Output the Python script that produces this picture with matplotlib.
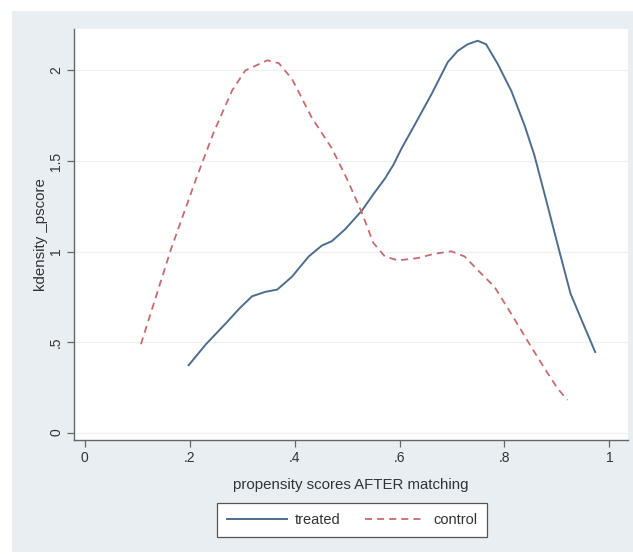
import matplotlib
matplotlib.use("Agg")
import matplotlib.pyplot as plt
from matplotlib.patches import Rectangle

# 读数：核密度曲线
treated_x = [0.198, 0.231, 0.272, 0.294, 0.319, 0.344, 0.367, 0.395, 0.427, 0.452,
             0.471, 0.496, 0.528, 0.553, 0.572, 0.588, 0.604, 0.629, 0.661, 0.692,
             0.711, 0.730, 0.749, 0.765, 0.787, 0.813, 0.838, 0.857, 0.879, 0.904,
             0.926, 0.949, 0.973]
treated_y = [0.372, 0.488, 0.613, 0.683, 0.753, 0.777, 0.790, 0.861, 0.973, 1.033,
             1.057, 1.122, 1.225, 1.328, 1.402, 1.477, 1.570, 1.700, 1.869, 2.046,
             2.108, 2.145, 2.164, 2.145, 2.037, 1.888, 1.700, 1.533, 1.290, 1.010,
             0.768, 0.609, 0.445]

control_x = [0.107, 0.164, 0.212, 0.246, 0.281, 0.306, 0.348, 0.370, 0.395, 0.433,
             0.471, 0.500, 0.528, 0.550, 0.572, 0.597, 0.635, 0.667, 0.699, 0.724,
             0.749, 0.781, 0.813, 0.844, 0.876, 0.901, 0.920]
control_y = [0.488, 1.010, 1.400, 1.660, 1.890, 2.000, 2.056, 2.040, 1.953, 1.738,
             1.570, 1.400, 1.216, 1.048, 0.973, 0.951, 0.964, 0.988, 1.001, 0.973,
             0.898, 0.805, 0.656, 0.507, 0.357, 0.245, 0.180]

x_ticks = [0, 0.2, 0.4, 0.6, 0.8, 1.0]
x_ticklabels = ["0", ".2", ".4", ".6", ".8", "1"]
y_ticks = [0, 0.5, 1.0, 1.5, 2.0]
y_ticklabels = ["0", ".5", "1", "1.5", "2"]

W, H = 633, 554
BG = "#e8eef1"
TEXT = "#333333"
AXIS = "#666666"

plt.rcParams["font.family"] = ["Liberation Sans", "DejaVu Sans"]

fig = plt.figure(figsize=(W / 100, H / 100), dpi=100, facecolor="white")
# Stata 风格外框背景（放在最底层）
fig.patches.append(Rectangle((12 / W, 1 - 552 / H), 1 - 12 / W, (552 - 11) / H,
                             transform=fig.transFigure, facecolor=BG,
                             edgecolor="none", zorder=-10))

ax = fig.add_axes([74.3 / W, 1 - 440 / H, (628 - 74.3) / W, (440 - 29) / H])
ax.set_facecolor("white")

ax.plot(treated_x, treated_y, color="#4d6d8e", lw=1.4, label="treated")
ax.plot(control_x, control_y, color="#c86b6e", lw=1.3, dashes=(3.9, 2.8), label="control")

ax.set_xlim(-0.02, 1.0356)
ax.set_ylim(-0.041, 2.229)
ax.set_xticks(x_ticks)
ax.set_xticklabels(x_ticklabels)
ax.set_yticks(y_ticks)
ax.set_yticklabels(y_ticklabels, rotation=90, va="center")
ax.yaxis.grid(True, color="#eef2f4", lw=1.0)
ax.set_axisbelow(True)

for side in ("top", "right"):
    ax.spines[side].set_visible(False)
for side in ("left", "bottom"):
    ax.spines[side].set_color(AXIS)
    ax.spines[side].set_linewidth(1.0)
ax.tick_params(direction="out", length=5, width=0.9, color=AXIS,
               labelcolor=TEXT, labelsize=10, pad=3)

ax.set_xlabel("propensity scores AFTER matching", fontsize=10.8, color=TEXT, labelpad=9)
ax.set_ylabel("kdensity _pscore", fontsize=10.8, color=TEXT, labelpad=0.5)

leg = fig.legend(loc="center", bbox_to_anchor=(352 / W, 1 - 520 / H), ncol=2,
                 frameon=True, fancybox=False, framealpha=1, fontsize=10.5,
                 handlelength=4.1, handletextpad=0.55, columnspacing=1.7,
                 borderpad=0.7, labelcolor=TEXT)
leg.get_frame().set_edgecolor("#555555")
leg.get_frame().set_linewidth(0.9)

fig.savefig("out.png", dpi=100, facecolor="white")
